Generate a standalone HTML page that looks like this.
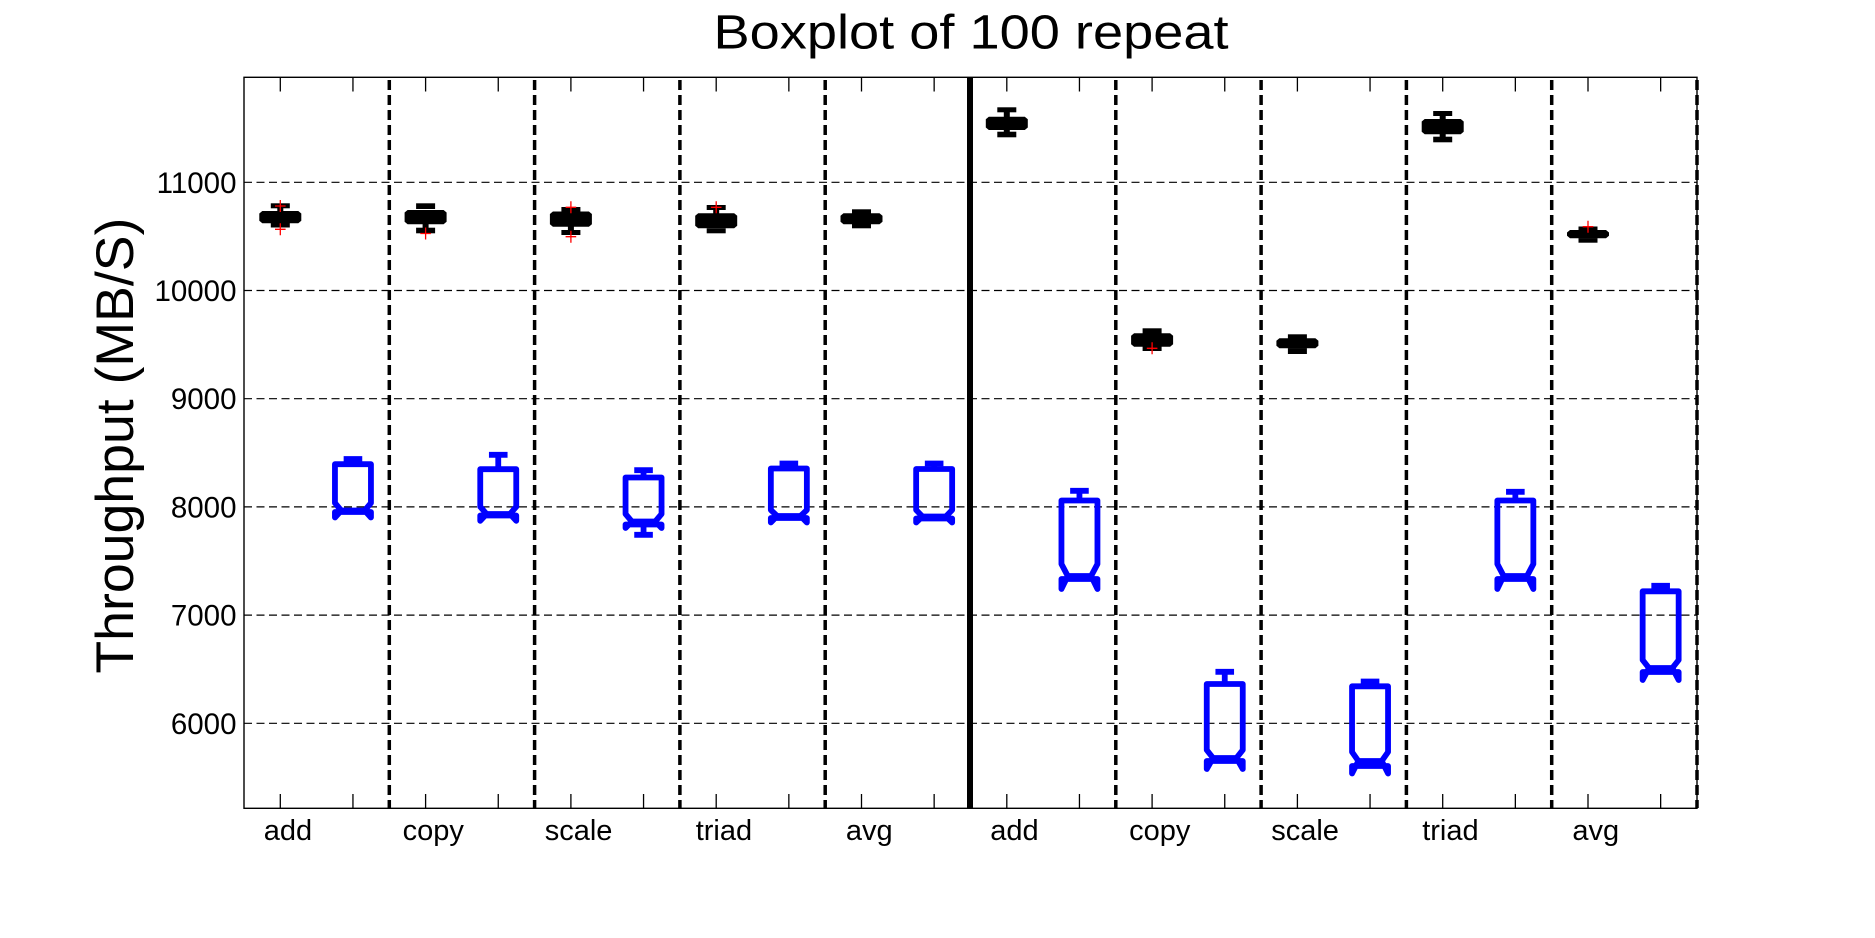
<!DOCTYPE html>
<html>
<head>
<meta charset="utf-8">
<style>
html,body{margin:0;padding:0;background:#fff;}
svg{display:block;}
text{font-family:"Liberation Sans",Arial,sans-serif;fill:#000;}
</style>
</head>
<body>
<svg width="1875" height="938" viewBox="0 0 1875 938" xmlns="http://www.w3.org/2000/svg">
<rect x="0" y="0" width="1875" height="938" fill="#fff"/>

<!-- Title -->
<text x="971" y="48.3" font-size="48" text-anchor="middle" textLength="515" lengthAdjust="spacingAndGlyphs">Boxplot of 100 repeat</text>

<!-- Y label -->
<text transform="translate(133,445.6) rotate(-90)" font-size="53" text-anchor="middle" textLength="456" lengthAdjust="spacingAndGlyphs">Throughput (MB/S)</text>

<!-- horizontal gridlines -->
<g stroke="#000" stroke-width="1.2" stroke-dasharray="8 4.5" fill="none">
<line x1="244" y1="182.3" x2="1697" y2="182.3"/>
<line x1="244" y1="290.5" x2="1697" y2="290.5"/>
<line x1="244" y1="398.7" x2="1697" y2="398.7"/>
<line x1="244" y1="506.9" x2="1697" y2="506.9"/>
<line x1="244" y1="615.1" x2="1697" y2="615.1"/>
<line x1="244" y1="723.3" x2="1697" y2="723.3"/>
</g>

<!-- y tick labels -->
<g font-size="29.5" text-anchor="end">
<text x="236.5" y="192.8">11000</text>
<text x="236.5" y="301">10000</text>
<text x="236.5" y="409.2">9000</text>
<text x="236.5" y="517.4">8000</text>
<text x="236.5" y="625.6">7000</text>
<text x="236.5" y="733.8">6000</text>
</g>

<!-- vertical dashed separators -->
<g stroke="#000" stroke-width="3.5" stroke-dasharray="10 5" fill="none">
<line x1="389.3" y1="80" x2="389.3" y2="808"/>
<line x1="534.6" y1="80" x2="534.6" y2="808"/>
<line x1="679.9" y1="80" x2="679.9" y2="808"/>
<line x1="825.2" y1="80" x2="825.2" y2="808"/>
<line x1="1115.8" y1="80" x2="1115.8" y2="808"/>
<line x1="1261.1" y1="80" x2="1261.1" y2="808"/>
<line x1="1406.4" y1="80" x2="1406.4" y2="808"/>
<line x1="1551.7" y1="80" x2="1551.7" y2="808"/>
<line x1="1697" y1="80" x2="1697" y2="808"/>
</g>
<!-- solid separator -->
<line x1="970" y1="77.3" x2="970" y2="808.3" stroke="#000" stroke-width="6"/>

<!-- axes box -->
<rect x="244" y="77.3" width="1453" height="731" fill="none" stroke="#000" stroke-width="1.4"/>

<!-- x ticks top and bottom -->
<g stroke="#000" stroke-width="1.3">
<line x1="280.3" y1="77.3" x2="280.3" y2="91.5"/><line x1="280.3" y1="794" x2="280.3" y2="808.3"/>
<line x1="352.95" y1="77.3" x2="352.95" y2="91.5"/><line x1="352.95" y1="794" x2="352.95" y2="808.3"/>
<line x1="425.6" y1="77.3" x2="425.6" y2="91.5"/><line x1="425.6" y1="794" x2="425.6" y2="808.3"/>
<line x1="498.25" y1="77.3" x2="498.25" y2="91.5"/><line x1="498.25" y1="794" x2="498.25" y2="808.3"/>
<line x1="570.9" y1="77.3" x2="570.9" y2="91.5"/><line x1="570.9" y1="794" x2="570.9" y2="808.3"/>
<line x1="643.55" y1="77.3" x2="643.55" y2="91.5"/><line x1="643.55" y1="794" x2="643.55" y2="808.3"/>
<line x1="716.2" y1="77.3" x2="716.2" y2="91.5"/><line x1="716.2" y1="794" x2="716.2" y2="808.3"/>
<line x1="788.85" y1="77.3" x2="788.85" y2="91.5"/><line x1="788.85" y1="794" x2="788.85" y2="808.3"/>
<line x1="861.5" y1="77.3" x2="861.5" y2="91.5"/><line x1="861.5" y1="794" x2="861.5" y2="808.3"/>
<line x1="934.15" y1="77.3" x2="934.15" y2="91.5"/><line x1="934.15" y1="794" x2="934.15" y2="808.3"/>
<line x1="1006.8" y1="77.3" x2="1006.8" y2="91.5"/><line x1="1006.8" y1="794" x2="1006.8" y2="808.3"/>
<line x1="1079.45" y1="77.3" x2="1079.45" y2="91.5"/><line x1="1079.45" y1="794" x2="1079.45" y2="808.3"/>
<line x1="1152.1" y1="77.3" x2="1152.1" y2="91.5"/><line x1="1152.1" y1="794" x2="1152.1" y2="808.3"/>
<line x1="1224.75" y1="77.3" x2="1224.75" y2="91.5"/><line x1="1224.75" y1="794" x2="1224.75" y2="808.3"/>
<line x1="1297.4" y1="77.3" x2="1297.4" y2="91.5"/><line x1="1297.4" y1="794" x2="1297.4" y2="808.3"/>
<line x1="1370.05" y1="77.3" x2="1370.05" y2="91.5"/><line x1="1370.05" y1="794" x2="1370.05" y2="808.3"/>
<line x1="1442.7" y1="77.3" x2="1442.7" y2="91.5"/><line x1="1442.7" y1="794" x2="1442.7" y2="808.3"/>
<line x1="1515.35" y1="77.3" x2="1515.35" y2="91.5"/><line x1="1515.35" y1="794" x2="1515.35" y2="808.3"/>
<line x1="1588" y1="77.3" x2="1588" y2="91.5"/><line x1="1588" y1="794" x2="1588" y2="808.3"/>
<line x1="1660.65" y1="77.3" x2="1660.65" y2="91.5"/><line x1="1660.65" y1="794" x2="1660.65" y2="808.3"/>
</g>

<!-- x tick labels -->
<g font-size="29" text-anchor="middle">
<text x="288" y="840">add</text>
<text x="433.3" y="840">copy</text>
<text x="578.6" y="840">scale</text>
<text x="723.9" y="840">triad</text>
<text x="869.2" y="840">avg</text>
<text x="1014.5" y="840">add</text>
<text x="1159.8" y="840">copy</text>
<text x="1305.1" y="840">scale</text>
<text x="1450.4" y="840">triad</text>
<text x="1595.7" y="840">avg</text>
</g>

<!-- Blue notched boxes -->
<g stroke="#0000ff" stroke-width="5.8" fill="none" stroke-linejoin="round">
<!-- pos2 -->
<line x1="352.95" y1="459" x2="352.95" y2="464.2"/>
<line x1="343.65" y1="459" x2="362.25" y2="459"/>
<path d="M334.95,464.2 H370.95 V503 L364.65,510.5 L370.95,517.5 V512 H334.95 V517.5 L341.25,510.5 L334.95,503 Z"/>
<line x1="341.25" y1="510.5" x2="364.65" y2="510.5"/>
<!-- pos4 -->
<line x1="498.25" y1="454.8" x2="498.25" y2="469.2"/>
<line x1="488.95" y1="454.8" x2="507.55" y2="454.8"/>
<path d="M480.25,469.2 H516.25 V506.7 L509.95,514 L516.25,520.8 V515.5 H480.25 V520.8 L486.55,514 L480.25,506.7 Z"/>
<line x1="486.55" y1="514" x2="509.95" y2="514"/>
<!-- pos6 -->
<line x1="643.55" y1="470.2" x2="643.55" y2="477.5"/>
<line x1="634.25" y1="470.2" x2="652.85" y2="470.2"/>
<path d="M625.55,477.5 H661.55 V514 L655.25,521.5 L661.55,528 V524.5 H625.55 V528 L631.85,521.5 L625.55,514 Z"/>
<line x1="631.85" y1="521.5" x2="655.25" y2="521.5"/>
<line x1="643.55" y1="524.5" x2="643.55" y2="534.8"/>
<line x1="634.25" y1="534.8" x2="652.85" y2="534.8"/>
<!-- pos8 -->
<line x1="788.85" y1="463.5" x2="788.85" y2="468.5"/>
<line x1="779.55" y1="463.5" x2="798.15" y2="463.5"/>
<path d="M770.85,468.5 H806.85 V510 L800.55,516 L806.85,522.5 V518 H770.85 V522.5 L777.15,516 L770.85,510 Z"/>
<line x1="777.15" y1="516" x2="800.55" y2="516"/>
<!-- pos10 -->
<line x1="934.15" y1="463.5" x2="934.15" y2="469"/>
<line x1="924.85" y1="463.5" x2="943.45" y2="463.5"/>
<path d="M916.15,469 H952.15 V510 L945.85,516.5 L952.15,522.5 V518.5 H916.15 V522.5 L922.45,516.5 L916.15,510 Z"/>
<line x1="922.45" y1="516.5" x2="945.85" y2="516.5"/>
<!-- pos12 -->
<line x1="1079.45" y1="490.8" x2="1079.45" y2="500.5"/>
<line x1="1070.15" y1="490.8" x2="1088.75" y2="490.8"/>
<path d="M1061.45,500.5 H1097.45 V564 L1091.15,576 L1097.45,589 V579 H1061.45 V589 L1067.75,576 L1061.45,564 Z"/>
<line x1="1067.75" y1="576" x2="1091.15" y2="576"/>
<!-- pos14 -->
<line x1="1224.75" y1="671.8" x2="1224.75" y2="684"/>
<line x1="1215.45" y1="671.8" x2="1234.05" y2="671.8"/>
<path d="M1206.75,684 H1242.75 V750 L1236.45,758 L1242.75,769 V761 H1206.75 V769 L1213.05,758 L1206.75,750 Z"/>
<line x1="1213.05" y1="758" x2="1236.45" y2="758"/>
<!-- pos16 -->
<line x1="1370.05" y1="681.5" x2="1370.05" y2="686.3"/>
<line x1="1360.75" y1="681.5" x2="1379.35" y2="681.5"/>
<path d="M1352.05,686.3 H1388.05 V752 L1381.75,761 L1388.05,773.5 V766 H1352.05 V773.5 L1358.35,761 L1352.05,752 Z"/>
<line x1="1358.35" y1="761" x2="1381.75" y2="761"/>
<line x1="1358.35" y1="764" x2="1381.75" y2="764"/>
<!-- pos18 -->
<line x1="1515.35" y1="491.8" x2="1515.35" y2="500.5"/>
<line x1="1506.05" y1="491.8" x2="1524.65" y2="491.8"/>
<path d="M1497.35,500.5 H1533.35 V564 L1527.05,576 L1533.35,589 V579 H1497.35 V589 L1503.65,576 L1497.35,564 Z"/>
<line x1="1503.65" y1="576" x2="1527.05" y2="576"/>
<!-- pos20 -->
<line x1="1660.65" y1="585.8" x2="1660.65" y2="591.3"/>
<line x1="1651.35" y1="585.8" x2="1669.95" y2="585.8"/>
<path d="M1642.65,591.3 H1678.65 V660 L1672.35,668 L1678.65,680 V672 H1642.65 V680 L1648.95,668 L1642.65,660 Z"/>
<line x1="1648.95" y1="668" x2="1672.35" y2="668"/>
</g>

<!-- Black compact boxes -->
<g fill="#000">
<rect x="270.8" y="203.3" width="19" height="5"/>
<rect x="277.3" y="208" width="6" height="4"/>
<polygon points="262.3,211 298.3,211 301.3,213.5 301.3,220.8 298.3,223.3 262.3,223.3 259.3,220.8 259.3,213.5"/>
<rect x="270.8" y="223" width="19" height="4.5"/>

<rect x="416.1" y="203.3" width="19" height="5.7"/>
<polygon points="407.6,210 443.6,210 446.6,212.5 446.6,221.8 443.6,224.3 407.6,224.3 404.6,221.8 404.6,212.5"/>
<rect x="422.6" y="224" width="6" height="4"/>
<rect x="416.1" y="227.7" width="19" height="5.6"/>

<rect x="561.4" y="207" width="19" height="4.5"/>
<polygon points="552.9,211.5 588.9,211.5 591.9,214 591.9,224.2 588.9,226.7 552.9,226.7 549.9,224.2 549.9,214"/>
<rect x="567.9" y="226.5" width="6" height="4"/>
<rect x="561.4" y="230" width="19" height="5"/>

<rect x="706.7" y="205" width="19" height="5"/>
<rect x="713.2" y="209.8" width="6" height="4"/>
<polygon points="698.2,213.3 734.2,213.3 737.2,215.8 737.2,225.8 734.2,228.3 698.2,228.3 695.2,225.8 695.2,215.8"/>
<rect x="706.7" y="228.3" width="19" height="5"/>

<rect x="852" y="209.3" width="19" height="4.5"/>
<polygon points="843.5,213.3 879.5,213.3 882.5,215.8 882.5,221.8 879.5,224.3 843.5,224.3 840.5,221.8 840.5,215.8"/>
<rect x="852" y="224" width="19" height="4.3"/>

<rect x="997.3" y="107.3" width="19" height="5"/>
<rect x="1003.8" y="112" width="6" height="5"/>
<polygon points="988.8,116.7 1024.8,116.7 1027.8,119.2 1027.8,127.5 1024.8,130 988.8,130 985.8,127.5 985.8,119.2"/>
<rect x="1003.8" y="129.8" width="6" height="2.2"/>
<rect x="997.3" y="131.7" width="19" height="5.6"/>

<rect x="1142.6" y="328.3" width="19" height="5.2"/>
<polygon points="1134.1,333.3 1170.1,333.3 1173.1,335.8 1173.1,344.2 1170.1,346.7 1134.1,346.7 1131.1,344.2 1131.1,335.8"/>
<rect x="1142.6" y="346.5" width="19" height="4.5"/>

<rect x="1287.9" y="334.3" width="19" height="4.2"/>
<polygon points="1279.4,338.3 1315.4,338.3 1318.4,340.8 1318.4,345.8 1315.4,348.3 1279.4,348.3 1276.4,345.8 1276.4,340.8"/>
<rect x="1287.9" y="348.1" width="19" height="5.9"/>

<rect x="1433.2" y="111" width="19" height="5"/>
<rect x="1439.7" y="115.8" width="6" height="3.5"/>
<polygon points="1424.7,119 1460.7,119 1463.7,121.5 1463.7,131.8 1460.7,134.3 1424.7,134.3 1421.7,131.8 1421.7,121.5"/>
<rect x="1439.7" y="134" width="6" height="3"/>
<rect x="1433.2" y="136.7" width="19" height="5.6"/>

<rect x="1578.5" y="226.5" width="19" height="4"/>
<polygon points="1570,230 1606,230 1609,232.5 1609,235.8 1606,238.3 1570,238.3 1567,235.8 1567,232.5"/>
<rect x="1578.5" y="238.1" width="19" height="4.6"/>
</g>

<!-- Red outlier crosses -->
<g stroke="#ff0000" stroke-width="1.3" fill="none">
<path d="M275,206 H285.6 M280.3,200 V212"/>
<path d="M275,229.3 H285.6 M280.3,223.3 V235.3"/>
<path d="M420.3,233.5 H430.9 M425.6,227.5 V239.5"/>
<path d="M565.6,207.3 H576.2 M570.9,201.3 V213.3"/>
<path d="M565.6,236.7 H576.2 M570.9,230.7 V242.7"/>
<path d="M710.9,207.3 H721.5 M716.2,201.3 V213.3"/>
<path d="M1146.8,348.3 H1157.4 M1152.1,342.3 V354.3"/>
<path d="M1582.7,226.7 H1593.3 M1588,220.7 V232.7"/>
</g>
</svg>
</body>
</html>
